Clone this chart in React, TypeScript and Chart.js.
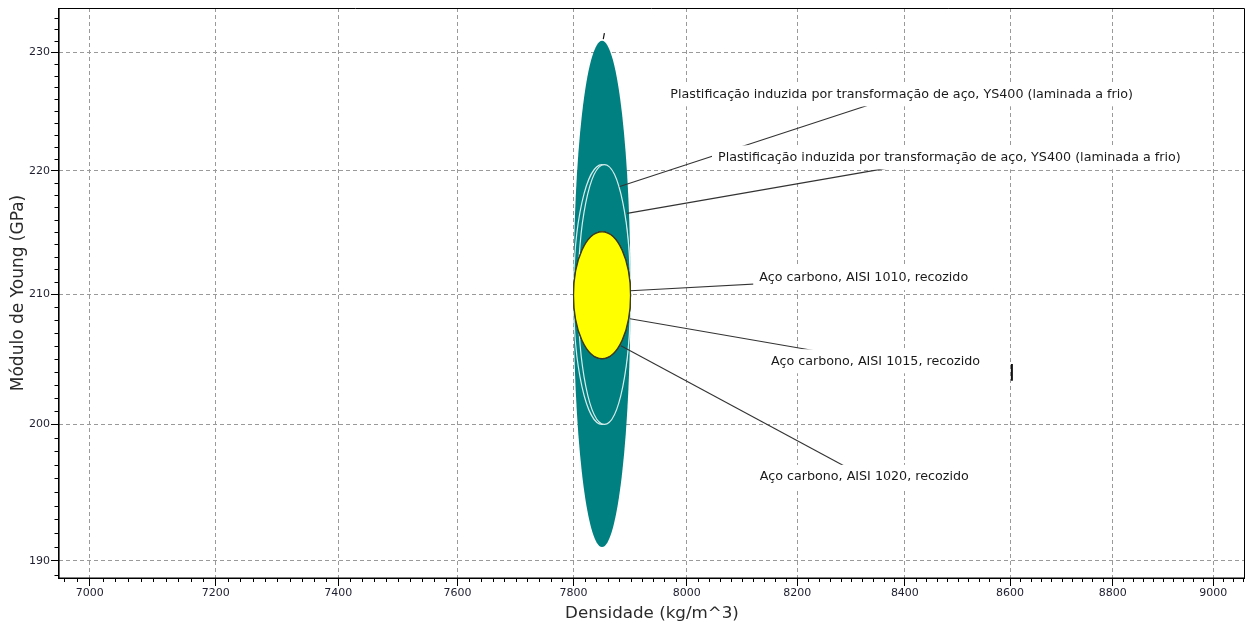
import React, { useEffect, useRef } from "react";
import { Chart, registerables } from "chart.js";

Chart.register(...registerables);

// ---------------- data ----------------
const TRIP = "Plastificação induzida por transformação de aço, YS400 (laminada a frio)";

// material property ranges (each range is drawn as an ellipse)
const materialNames = [
  "Aço (envoltória)",
  TRIP,
  TRIP,
  "Aço carbono, AISI 1010, recozido",
  "Aço carbono, AISI 1015, recozido",
  "Aço carbono, AISI 1020, recozido",
];
const densityLow = [7800, 7800, 7808, 7800, 7800, 7800];
const densityHigh = [7900, 7900, 7900, 7900, 7900, 7900];
const modulusLow = [191, 200, 200, 205, 205, 205];
const modulusHigh = [231, 220.5, 220.5, 215, 215, 215];

// annotation labels
const labelTexts = [
  TRIP,
  TRIP,
  "Aço carbono, AISI 1010, recozido",
  "Aço carbono, AISI 1015, recozido",
  "Aço carbono, AISI 1020, recozido",
];
const labelDensity = [8394, 8484, 8323, 8345, 8324];
const labelModulus = [226.4, 221.1, 211.3, 204.8, 196.1];
const anchorDensity = [7881, 7894, 7900, 7899, 7883];
const anchorModulus = [218.7, 216.5, 210.3, 208.1, 206.0];

// small stray marks visible in the picture
const strayDensity = [
  [7852, 7854],
  [8603.5, 8603.5],
];
const strayModulus = [
  [231.15, 231.67],
  [204.6, 203.3],
];

// axes
const densityTicks = [7000, 7200, 7400, 7600, 7800, 8000, 8200, 8400, 8600, 8800, 9000];
const modulusTicks = [190, 200, 210, 220, 230];
const densityMinorStep = 20;
const modulusMinorStep = 1;
const densityRange = [6952, 9064];
const modulusRange = [188.79, 233.86];
const xTitle = "Densidade (kg/m^3)";
const yTitle = "Módulo de Young (GPa)";

// ---------------- styles ----------------
const ellipseFill = ["#008080", "#008080", "#008080", "#ffff00", "#ffff00", "#ffff00"];
const ellipseStroke = [null, "#d4ecec", "#d4ecec", "#3a3a22", "#3a3a22", "#3a3a22"];
const FONT = '"DejaVu Sans", Verdana, sans-serif';
const labelFontSize = 12.7;

function minorValues(range: number[], step: number, majors: number[]) {
  const out: number[] = [];
  const start = Math.ceil(range[0] / step) * step;
  for (let v = start; v <= range[1] + 1e-9; v += step) {
    const r = Math.round(v * 1000) / 1000;
    if (!majors.includes(r)) out.push(r);
  }
  return out;
}

const ellipsePlugin = {
  id: "ellipses",
  beforeDatasetsDraw(chart: any) {
    const { ctx, chartArea: a } = chart;
    ctx.save();
    ctx.beginPath();
    ctx.rect(a.left, a.top, a.right - a.left, a.bottom - a.top);
    ctx.clip();
    chart.data.datasets.forEach((ds: any, i: number) => {
      if (ds.kind !== "ellipse") return;
      const meta = chart.getDatasetMeta(i);
      const p0 = meta.data[0];
      const p1 = meta.data[1];
      const cx = (p0.x + p1.x) / 2;
      const cy = (p0.y + p1.y) / 2;
      const rx = Math.abs(p1.x - p0.x) / 2;
      const ry = Math.abs(p1.y - p0.y) / 2;
      ctx.beginPath();
      ctx.ellipse(cx, cy, rx, ry, 0, 0, Math.PI * 2);
      ctx.fillStyle = ds.ellipseFill;
      ctx.fill();
      if (ds.ellipseStroke) {
        ctx.lineWidth = 1.2;
        ctx.strokeStyle = ds.ellipseStroke;
        ctx.stroke();
      }
    });
    ctx.restore();
  },
  afterDatasetsDraw(chart: any) {
    const { ctx } = chart;
    ctx.save();
    ctx.font = `${labelFontSize}px ${FONT}`;
    ctx.textAlign = "center";
    ctx.textBaseline = "middle";
    chart.data.datasets.forEach((ds: any, i: number) => {
      if (ds.kind !== "leader") return;
      const pt = chart.getDatasetMeta(i).data[1];
      const w = ctx.measureText(ds.labelText).width;
      ctx.fillStyle = "#ffffff";
      ctx.fillRect(pt.x - w / 2 - 6, pt.y - 12, w + 12, 24);
      ctx.fillStyle = "#1a1a1a";
      ctx.fillText(ds.labelText, pt.x, pt.y);
    });
    ctx.restore();
  },
  afterDraw(chart: any) {
    const { ctx, chartArea: a, scales } = chart;
    const x = scales.x;
    const y = scales.y;
    ctx.save();
    ctx.strokeStyle = "#000";
    ctx.lineWidth = 1;
    ctx.beginPath();
    for (const v of minorValues(densityRange, densityMinorStep, densityTicks)) {
      const px = Math.round(x.getPixelForValue(v)) + 0.5;
      ctx.moveTo(px, a.bottom);
      ctx.lineTo(px, a.bottom + 4);
    }
    for (const v of minorValues(modulusRange, modulusMinorStep, modulusTicks)) {
      const py = Math.round(y.getPixelForValue(v)) + 0.5;
      ctx.moveTo(a.left - 4.5, py);
      ctx.lineTo(a.left, py);
    }
    ctx.stroke();
    // frame
    ctx.beginPath();
    ctx.moveTo(a.left, a.top + 0.5);
    ctx.lineTo(a.right - 0.5, a.top + 0.5);
    ctx.lineTo(a.right - 0.5, a.bottom);
    ctx.stroke();
    ctx.lineWidth = 1.6;
    ctx.beginPath();
    ctx.moveTo(a.left - 0.2, a.top);
    ctx.lineTo(a.left - 0.2, a.bottom + 0.2);
    ctx.lineTo(a.right, a.bottom + 0.2);
    ctx.stroke();
    ctx.restore();
  },
};

export default function App() {
  const ref = useRef<HTMLCanvasElement>(null);
  useEffect(() => {
    document.body.style.margin = "0";
    const canvas = ref.current!;

    const datasets: any[] = [];
    materialNames.forEach((name, i) => {
      datasets.push({
        kind: "ellipse",
        label: name,
        data: [
          { x: densityLow[i], y: modulusLow[i] },
          { x: densityHigh[i], y: modulusHigh[i] },
        ],
        pointRadius: 0,
        showLine: false,
        ellipseFill: ellipseFill[i],
        ellipseStroke: ellipseStroke[i],
      });
    });
    labelTexts.forEach((t, i) => {
      datasets.push({
        kind: "leader",
        label: t,
        labelText: t,
        data: [
          { x: anchorDensity[i], y: anchorModulus[i] },
          { x: labelDensity[i], y: labelModulus[i] },
        ],
        showLine: true,
        borderColor: "#333333",
        borderWidth: 1.1,
        pointRadius: 0,
      });
    });
    strayDensity.forEach((xs, i) => {
      datasets.push({
        kind: "stray",
        label: "mark " + i,
        data: xs.map((xv, j) => ({ x: xv, y: strayModulus[i][j] })),
        showLine: true,
        borderColor: "#111111",
        borderWidth: i === 0 ? 1.2 : 2,
        pointRadius: 0,
      });
    });

    const tickFont = { family: FONT, size: 11 };
    const chart = new Chart(canvas, {
      type: "scatter",
      data: { datasets },
      plugins: [ellipsePlugin],
      options: {
        animation: false,
        responsive: false,
        devicePixelRatio: 1,
        layout: { padding: { top: 8, right: 1, left: 0, bottom: 0 }, autoPadding: false },
        plugins: { legend: { display: false }, tooltip: { enabled: false } },
        scales: {
          x: {
            type: "logarithmic",
            position: "bottom",
            min: densityRange[0],
            max: densityRange[1],
            bounds: "data",
            afterBuildTicks: (s: any) => {
              s.ticks = densityTicks.map((v) => ({ value: v }));
            },
            afterFit: (s: any) => {
              s.height = 46;
            },
            ticks: {
              autoSkip: false,
              maxRotation: 0,
              padding: 1,
              color: "#1e1e30",
              font: tickFont,
              callback: (v: any) => String(v),
            },
            grid: {
              color: "#9a9a9a",
              lineWidth: 1,
              drawTicks: true,
              tickLength: 8,
              tickColor: "#000",
              tickWidth: 1,
            },
            border: { display: false, dash: [4, 3] },
            title: {
              display: true,
              text: xTitle,
              color: "#2a2a2a",
              font: { family: FONT, size: 16.7 },
              padding: { top: 0, bottom: 0 },
            },
          },
          y: {
            type: "logarithmic",
            position: "left",
            min: modulusRange[0],
            max: modulusRange[1],
            bounds: "data",
            afterBuildTicks: (s: any) => {
              s.ticks = modulusTicks.map((v) => ({ value: v }));
            },
            afterFit: (s: any) => {
              s.width = 59;
            },
            ticks: {
              autoSkip: false,
              padding: 1,
              color: "#1e1e30",
              font: tickFont,
              callback: (v: any) => String(v),
            },
            grid: {
              color: "#9a9a9a",
              lineWidth: 1,
              drawTicks: true,
              tickLength: 8,
              tickColor: "#000",
              tickWidth: 1,
            },
            border: { display: false, dash: [4, 3] },
            title: {
              display: true,
              text: yTitle,
              color: "#2a2a2a",
              font: { family: FONT, size: 17 },
              padding: { top: 8.5, bottom: 0 },
            },
          },
        },
      } as any,
    });
    return () => chart.destroy();
  }, []);

  return (
    <div style={{ position: "absolute", left: 0, top: 0, width: 1246, height: 624 }}>
      <canvas ref={ref} width={1246} height={624} style={{ display: "block", width: 1246, height: 624 }} />
    </div>
  );
}
